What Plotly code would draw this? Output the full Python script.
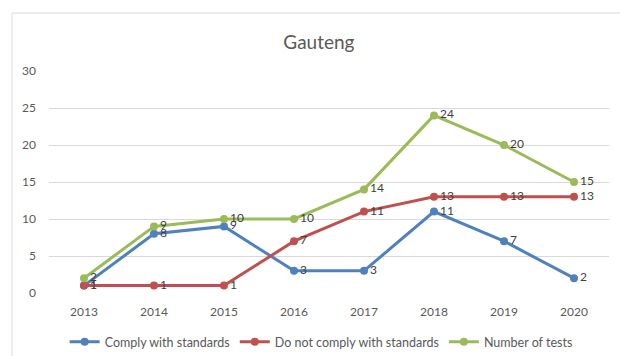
import plotly.graph_objects as go

# Yearly counts for Gauteng
years = ["2013", "2014", "2015", "2016", "2017", "2018", "2019", "2020"]
comply = [1, 8, 9, 3, 3, 11, 7, 2]
not_comply = [1, 1, 1, 7, 11, 13, 13, 13]
tests = [2, 9, 10, 10, 14, 24, 20, 15]
y_ticks = [0, 5, 10, 15, 20, 25, 30]

series = [
    ("Comply with standards", comply, "#4F81BD"),
    ("Do not comply with standards", not_comply, "#C0504D"),
    ("Number of tests", tests, "#9BBB59"),
]

FONT = "Lato"
TEXT_GREY = "#595959"

fig = go.Figure()
for name, vals, color in series:
    fig.add_trace(go.Scatter(
        x=years, y=vals, name=name,
        mode="lines+markers+text",
        line=dict(color=color, width=3),
        marker=dict(color=color, size=8, symbol="circle"),
        text=[str(v) for v in vals],
        textposition="middle right",
        textfont=dict(family=FONT, size=12, color="#404040"),
        cliponaxis=False,
    ))

fig.update_layout(
    width=620, height=356,
    margin=dict(l=49, r=11, t=71, b=63, autoexpand=False),
    paper_bgcolor="white", plot_bgcolor="white",
    font=dict(family=FONT, size=12, color=TEXT_GREY),
    title=dict(text="Gauteng", x=0.482, xref="paper", xanchor="center",
               y=1 - 42 / 356, yanchor="middle",
               font=dict(family=FONT, size=19, color=TEXT_GREY)),
    showlegend=True,
    legend=dict(orientation="h", x=0.486, xref="paper", xanchor="center",
                y=-49 / 222, yanchor="middle",
                font=dict(family=FONT, size=12.5, color=TEXT_GREY),
                traceorder="normal", itemwidth=30),
    xaxis=dict(type="category", range=[-0.5, 7.5], showgrid=False,
               showline=False, zeroline=False, ticks="",
               ticklabelstandoff=10,
               tickfont=dict(family=FONT, size=12, color=TEXT_GREY)),
    yaxis=dict(range=[0, 30], tickvals=y_ticks, showgrid=True,
               gridcolor="#D9D9D9", gridwidth=1, zeroline=False,
               showline=False, ticks="", ticklabelstandoff=12,
               tickfont=dict(family=FONT, size=12, color=TEXT_GREY)),
    shapes=[dict(type="rect", xref="paper", yref="paper",
                 x0=-37 / 560, x1=1.2, y0=-1, y1=1 + 58 / 222,
                 line=dict(color="#D9D9D9", width=1), fillcolor="rgba(0,0,0,0)",
                 layer="below")],
)

fig.write_html("out.html")
